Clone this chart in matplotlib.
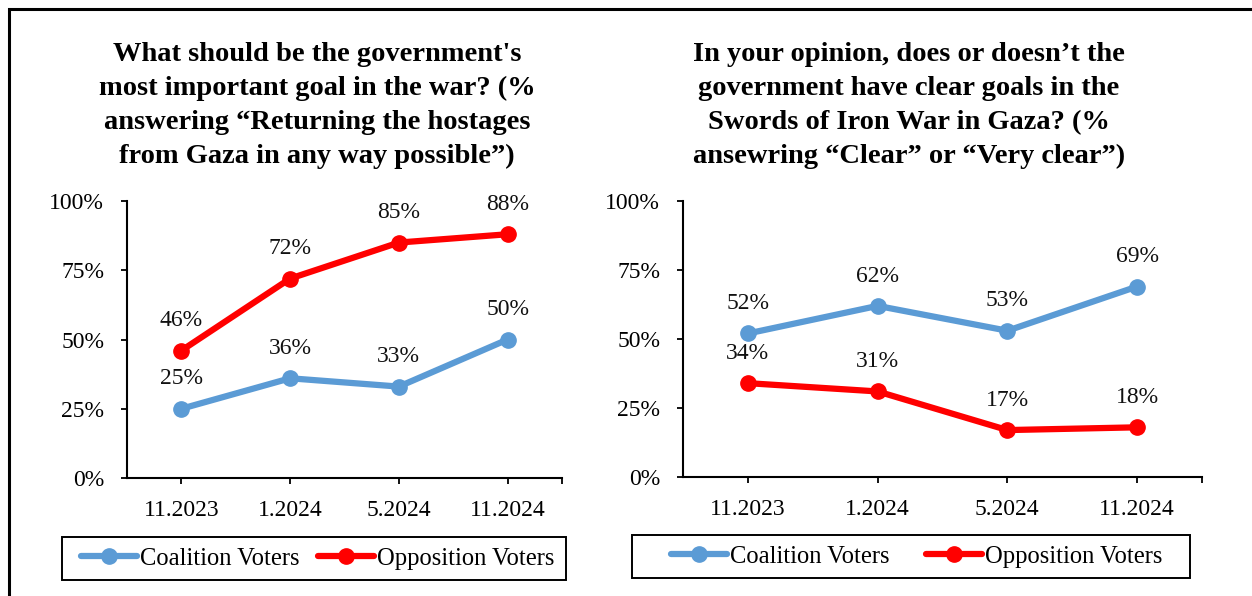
import matplotlib
matplotlib.use("Agg")
import matplotlib.pyplot as plt
from matplotlib.patches import Rectangle

plt.rcParams['font.family'] = ['Liberation Serif', 'DejaVu Serif']

## Dados
periods = ["11.2023", "1.2024", "5.2024", "11.2024"]

goal_coalition = [25, 36, 33, 50]
goal_opposition = [46, 72, 85, 88]

clear_coalition = [52, 62, 53, 69]
clear_opposition = [34, 31, 17, 18]

titles = [
    "What should be the government's\nmost important goal in the war? (%\n"
    "answering \u201cReturning the hostages\nfrom Gaza in any way possible\u201d)",
    "In your opinion, does or doesn\u2019t the\ngovernment have clear goals in the\n"
    "Swords of Iron War in Gaza? (%\nansewring \u201cClear\u201d or \u201cVery clear\u201d)",
]
series_names = ["Coalition Voters", "Opposition Voters"]

blue = "#5B9BD5"
red = "#FF0000"

W, H = 1252, 596
fig = plt.figure(figsize=(W / 100, H / 100), dpi=100)


def px_box(x0, y0, x1, y1):
    # caixa em pixels (origem no canto superior) -> coordenadas da figura
    return [x0 / W, 1 - y1 / H, (x1 - x0) / W, (y1 - y0) / H]


def draw_panel(box, coal, opp, title, title_x, leg_start, leg_box, colsp):
    ax = fig.add_axes(box)
    xs = [i + 0.5 for i in range(len(periods))]
    l1, = ax.plot(xs, [v / 100 for v in coal], color=blue, lw=4.5,
                  marker="o", markersize=11, solid_capstyle="round",
                  label=series_names[0])
    l2, = ax.plot(xs, [v / 100 for v in opp], color=red, lw=4.5,
                  marker="o", markersize=11, solid_capstyle="round",
                  label=series_names[1])
    for vals in (coal, opp):
        for x, v in zip(xs, vals):
            ax.annotate(f"{v}%", (x, v / 100), xytext=(0, 21.5),
                        textcoords="offset points", ha="center", va="center",
                        fontsize=17, color="#111111")
    ax.set_xlim(0, 4)
    ax.set_ylim(0, 1)
    ax.set_xticks(xs)
    ax.set_xticklabels(periods, fontsize=17)
    ax.set_xticks([4], minor=True)
    ax.set_yticks([0, 0.25, 0.5, 0.75, 1.0])
    ax.set_yticklabels(["0%", "25%", "50%", "75%", "100%"], fontsize=17)
    ax.tick_params(axis="both", which="both", direction="out", length=4.5,
                   width=1.3, color="black")
    ax.tick_params(axis="x", pad=11)
    ax.tick_params(axis="y", pad=12)
    for s in ("top", "right"):
        ax.spines[s].set_visible(False)
    for s in ("left", "bottom"):
        ax.spines[s].set_linewidth(1.5)
    ax.patch.set_alpha(0)

    fig.text(title_x / W, 1 - 42 / H, title, ha="center", va="top",
             fontsize=20.5, fontweight="bold", linespacing=1.47)

    # legenda sem moldura + caixa desenhada à parte
    fig.legend([l1, l2], series_names, loc="center left",
               bbox_to_anchor=(leg_start[0] / W, 1 - leg_start[1] / H),
               ncol=2, fontsize=17.7, frameon=False,
               handlelength=2.28, handletextpad=0.12, columnspacing=colsp,
               borderpad=0, borderaxespad=0)
    x0, y0, x1, y1 = leg_box
    fig.patches.append(Rectangle((x0 / W, 1 - y1 / H), (x1 - x0) / W, (y1 - y0) / H,
                                 transform=fig.transFigure, fill=False,
                                 edgecolor="black", linewidth=1.4))


draw_panel(px_box(127, 201, 562, 478), goal_coalition, goal_opposition,
           titles[0], 317, (81, 558.5), (62, 537, 566, 580), 0.77)
draw_panel(px_box(683, 201, 1202, 477), clear_coalition, clear_opposition,
           titles[1], 909, (671, 556.5), (632, 535, 1190, 578), 1.5)

# moldura externa
fig.patches.append(Rectangle((9 / W, -0.05), 1.05, 1 - 9 / H + 0.05,
                             transform=fig.transFigure, fill=False,
                             edgecolor="black", linewidth=2.2, clip_on=False))

fig.savefig("out.png", dpi=100)
